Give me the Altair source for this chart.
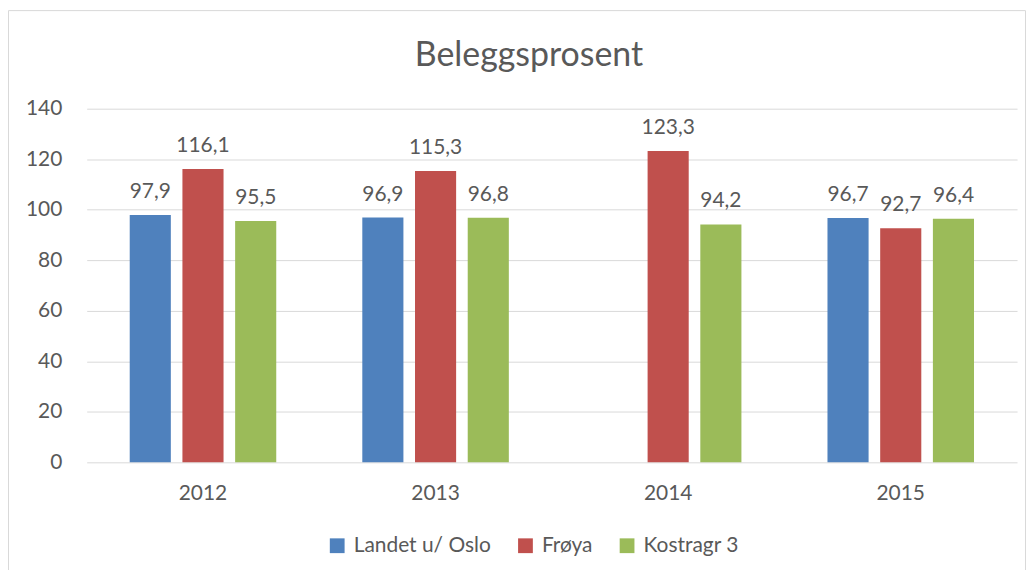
import altair as alt
import pandas as pd

years = ["2012", "2013", "2014", "2015"]
series = ["Landet u/ Oslo", "Frøya", "Kostragr 3"]
landet = [97.9, 96.9, None, 96.7]
froya = [116.1, 115.3, 123.3, 92.7]
kostra = [95.5, 96.8, 94.2, 96.4]
colors = ["#4F81BD", "#C0504D", "#9BBB59"]
title_text = "Beleggsprosent"

rows = []
for s, vals in zip(series, [landet, froya, kostra]):
    for y, v in zip(years, vals):
        if v is not None:
            rows.append({"year": y, "series": s, "value": v})
df = pd.DataFrame(rows)

FONT = "Lato"
TXT = "#595959"
FS = 21

x = alt.X("year:N", sort=years, title=None,
          scale=alt.Scale(paddingInner=0.37, paddingOuter=0.185, range=[3, 937]),
          axis=alt.Axis(labelAngle=0, labelFontSize=FS, labelColor=TXT, labelFont=FONT,
                        labelPadding=20, ticks=False, domain=False, grid=False))
xo = alt.XOffset("series:N", sort=series, scale=alt.Scale(domain=series, paddingInner=0.22))
y = alt.Y("value:Q", title=None,
          scale=alt.Scale(domain=[0, 140]),
          axis=alt.Axis(values=[0, 20, 40, 60, 80, 100, 120, 140], labelFontSize=FS,
                        labelColor=TXT, labelFont=FONT, labelPadding=22, ticks=False,
                        domain=False, gridColor="#d9d9d9", gridWidth=1))
color = alt.Color("series:N", sort=series,
                  scale=alt.Scale(domain=series, range=colors),
                  legend=alt.Legend(title=None, orient="none", direction="horizontal",
                                    legendX=244, legendY=428, symbolType="square",
                                    symbolSize=220, symbolStrokeWidth=0, symbolOpacity=1,
                                    labelFontSize=FS, labelColor=TXT, labelFont=FONT,
                                    columnPadding=24, labelOffset=6))

base = alt.Chart(df)
bars = base.mark_bar().encode(x=x, xOffset=xo, y=y, color=color)
labels = base.mark_text(fontSize=FS, font=FONT, color=TXT, baseline="alphabetic", dy=-17).transform_calculate(
    lab="replace(format(datum.value, '.1f'), '.', ',')"
).encode(x=x, xOffset=xo, y=y, text="lab:N")

one = alt.Chart(pd.DataFrame({"t": [title_text]}))
border = one.mark_rect(
    fill=None, stroke="#d9d9d9", strokeWidth=1
).encode(x=alt.value(-75.5), x2=alt.value(945.5), y=alt.value(-98.5), y2=alt.value(490))
title = one.mark_text(fontSize=34, font=FONT, color=TXT, baseline="middle", align="center").encode(
    x=alt.value(447), y=alt.value(-53), text="t:N")

chart = alt.layer(border, title, bars, labels).properties(
    width=934, height=355,
    padding={"left": 76, "top": 100, "right": 12, "bottom": 107},
    autosize=alt.AutoSizeParams(type="none"),
).configure_view(stroke=None)

chart.save("out.html", embed_options={"renderer": "svg", "actions": False})
